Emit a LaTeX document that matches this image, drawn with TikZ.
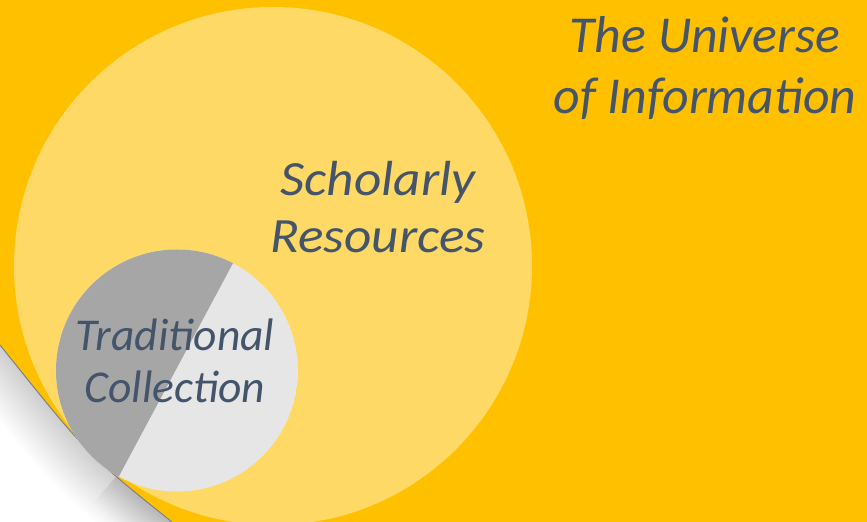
\documentclass[tikz,border=0pt]{standalone}
\usepackage{fontspec}
\setmainfont{Carlito}
\newfontfamily\widecarlito[FakeStretch=1.08]{Carlito}
\definecolor{bgorange}{HTML}{FFC000}
\definecolor{lightyellow}{HTML}{FFD966}
\definecolor{midgray}{HTML}{A6A6A6}
\definecolor{palegray}{HTML}{E7E6E6}
\definecolor{slate}{HTML}{44546A}
\definecolor{foldgray}{HTML}{7F7F7F}
\tikzset{
  label text/.style={text=slate, align=center, inner sep=0pt, anchor=base},
  shadowstroke/.style={black, opacity=0.0075, line width=#1},
}
\begin{document}
\begin{tikzpicture}[x=1bp,y=1bp]
\useasboundingbox (0,0) rectangle (867,522);
\fill[bgorange] (0,0) rectangle (867,522);
% large circle
\fill[lightyellow] (273,256) circle (259);
% page curl
\coordinate (foldtop) at (0,177);
\coordinate (foldctl) at (87.6,67.5);
\coordinate (foldbot) at (172,0);
\begin{scope}
  \clip (foldtop) .. controls (foldctl) .. (foldbot) -- (0,0) -- cycle;
  \fill[white] (0,0) rectangle (200,200);
  \foreach \w in {4,8,...,96}{
    \draw[shadowstroke=\w bp] (foldtop) .. controls (foldctl) .. (foldbot);
  }
  \foreach \w in {6,12,...,66}{
    \draw[shadowstroke=\w bp] (115,44) .. controls (143,19) .. (foldbot);
  }
\end{scope}
\draw[foldgray, line width=1bp] (foldtop) .. controls (foldctl) .. (foldbot);
% small circle
\begin{scope}
  \clip (177,151.5) circle (121);
  \fill[palegray] (177,151.5) circle (121);
  \fill[midgray] (61,-62.5) -- (289,363.5) -- (-100,363.5) -- (-100,-62.5) -- cycle;
\end{scope}
% texts
\node[label text, font=\itshape\fontsize{52}{62}\selectfont] (universe) at (705,408) {The Universe\\of Information};
\node[label text, font=\widecarlito\itshape\fontsize{49.5}{58}\selectfont] (scholarly) at (378,269) {Scholarly\\Resources};
\node[label text, font=\itshape\fontsize{45.7}{53}\selectfont] (traditional) at (175,119) {Traditional\\Collection};
\end{tikzpicture}
\end{document}
